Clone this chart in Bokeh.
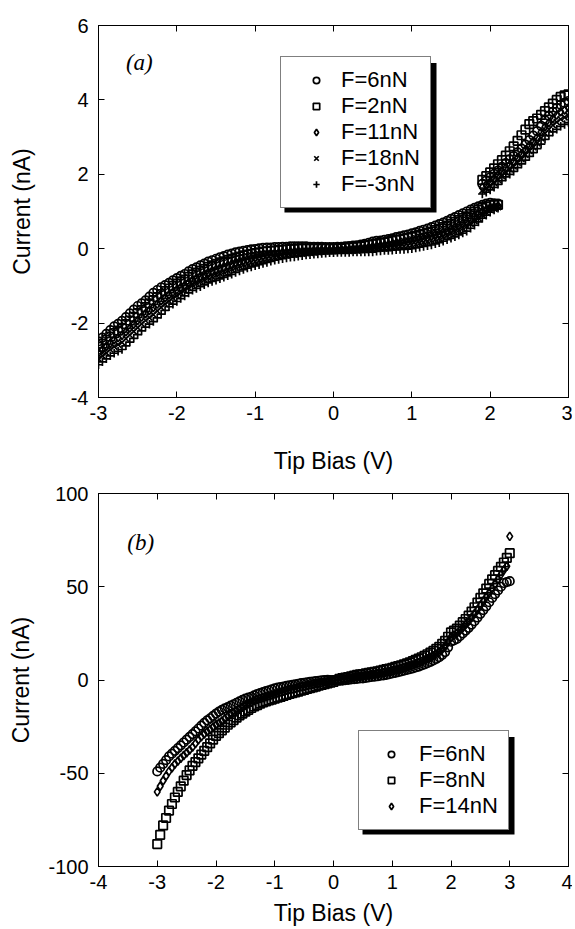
from bokeh.plotting import figure
from bokeh.models import (Range1d, LinearAxis, FixedTicker, Legend, LegendItem,
                          Label, ColumnDataSource, BoxAnnotation)
from bokeh.layouts import column
from bokeh.embed import file_html
from bokeh.resources import INLINE

FONT = "Liberation Sans"

# ---------------- panel (a) data ----------------
A_X_LO = [-3.00, -2.95, -2.90, -2.85, -2.80, -2.75, -2.70, -2.65, -2.60, -2.55,
          -2.50, -2.45, -2.40, -2.35, -2.30, -2.25, -2.20, -2.15, -2.10, -2.05,
          -2.00, -1.95, -1.90, -1.85, -1.80, -1.75, -1.70, -1.65, -1.60, -1.55,
          -1.50, -1.45, -1.40, -1.35, -1.30, -1.25, -1.20, -1.15, -1.10, -1.05,
          -1.00, -0.95, -0.90, -0.85, -0.80, -0.75, -0.70, -0.65, -0.60, -0.55,
          -0.50, -0.45, -0.40, -0.35, -0.30, -0.25, -0.20, -0.15, -0.10, -0.05,
          0.00, 0.05, 0.10, 0.15, 0.20, 0.25, 0.30, 0.35, 0.40, 0.45,
          0.50, 0.55, 0.60, 0.65, 0.70, 0.75, 0.80, 0.85, 0.90, 0.95,
          1.00, 1.05, 1.10, 1.15, 1.20, 1.25, 1.30, 1.35, 1.40, 1.45,
          1.50, 1.55, 1.60, 1.65, 1.70, 1.75, 1.80, 1.85, 1.90, 1.95,
          2.00, 2.05, 2.10]
A_X_HI = [1.90, 1.95, 2.00, 2.05, 2.10, 2.15, 2.20, 2.25, 2.30, 2.35, 2.40, 2.45,
          2.50, 2.55, 2.60, 2.65, 2.70, 2.75, 2.80, 2.85, 2.90, 2.95, 3.00]

A_F6_LO = [-2.49, -2.39, -2.29, -2.19, -2.09, -2.02, -1.94, -1.84, -1.74, -1.64,
           -1.54, -1.47, -1.39, -1.29, -1.19, -1.11, -1.04, -0.98, -0.92, -0.85,
           -0.79, -0.73, -0.68, -0.61, -0.55, -0.50, -0.45, -0.40, -0.35, -0.31,
           -0.27, -0.23, -0.20, -0.16, -0.13, -0.10, -0.08, -0.06, -0.04, -0.02,
           -0.01, 0.01, 0.02, 0.03, 0.03, 0.04, 0.04, 0.05, 0.05, 0.06,
           0.06, 0.06, 0.06, 0.06, 0.05, 0.05, 0.05, 0.05, 0.04, 0.04,
           0.04, 0.05, 0.05, 0.06, 0.07, 0.08, 0.09, 0.11, 0.13, 0.16,
           0.19, 0.21, 0.22, 0.24, 0.26, 0.28, 0.31, 0.33, 0.36, 0.38,
           0.41, 0.44, 0.48, 0.51, 0.54, 0.58, 0.62, 0.66, 0.70, 0.75,
           0.80, 0.85, 0.90, 0.95, 1.00, 1.05, 1.10, 1.14, 1.18, 1.21,
           1.23, 1.22, 1.21]
A_F6_HI = [1.74, 1.83, 1.92, 2.01, 2.10, 2.20, 2.30, 2.40, 2.49, 2.59, 2.69, 2.80,
           2.92, 3.04, 3.16, 3.30, 3.45, 3.57, 3.68, 3.78, 3.87, 3.92, 3.97]

A_F2_LO = [-2.64, -2.55, -2.45, -2.36, -2.27, -2.20, -2.13, -2.03, -1.93, -1.83,
           -1.73, -1.65, -1.57, -1.47, -1.38, -1.30, -1.22, -1.14, -1.07, -1.00,
           -0.94, -0.88, -0.83, -0.76, -0.69, -0.64, -0.59, -0.54, -0.49, -0.45,
           -0.41, -0.37, -0.34, -0.30, -0.27, -0.24, -0.21, -0.18, -0.16, -0.14,
           -0.12, -0.10, -0.08, -0.07, -0.06, -0.05, -0.04, -0.03, -0.02, -0.01,
           -0.01, 0.00, 0.00, 0.00, 0.00, 0.00, 0.00, 0.00, 0.00, 0.00,
           0.00, 0.00, 0.01, 0.02, 0.03, 0.04, 0.05, 0.06, 0.08, 0.10,
           0.12, 0.13, 0.15, 0.17, 0.19, 0.21, 0.23, 0.25, 0.27, 0.29,
           0.31, 0.34, 0.37, 0.40, 0.43, 0.46, 0.50, 0.54, 0.58, 0.62,
           0.67, 0.72, 0.77, 0.82, 0.87, 0.93, 0.99, 1.04, 1.09, 1.13,
           1.17, 1.18, 1.18]
A_F2_HI = [1.85, 1.95, 2.05, 2.16, 2.27, 2.38, 2.50, 2.62, 2.75, 2.90, 3.05, 3.20,
           3.35, 3.43, 3.50, 3.60, 3.70, 3.80, 3.90, 4.00, 4.08, 4.12, 4.15]

A_F11_LO = [-2.80, -2.71, -2.63, -2.54, -2.45, -2.39, -2.33, -2.23, -2.13, -2.03,
            -1.93, -1.84, -1.75, -1.66, -1.58, -1.49, -1.40, -1.32, -1.24, -1.17,
            -1.10, -1.04, -0.98, -0.91, -0.84, -0.79, -0.74, -0.69, -0.64, -0.60,
            -0.56, -0.52, -0.49, -0.45, -0.41, -0.37, -0.34, -0.31, -0.28, -0.25,
            -0.23, -0.21, -0.19, -0.17, -0.16, -0.14, -0.13, -0.11, -0.10, -0.09,
            -0.08, -0.07, -0.07, -0.06, -0.06, -0.05, -0.05, -0.04, -0.04, -0.04,
            -0.04, -0.03, -0.03, -0.02, -0.02, -0.01, 0.00, 0.01, 0.02, 0.03,
            0.05, 0.06, 0.08, 0.09, 0.11, 0.12, 0.14, 0.15, 0.17, 0.19,
            0.21, 0.23, 0.26, 0.28, 0.31, 0.34, 0.38, 0.41, 0.45, 0.49,
            0.54, 0.59, 0.64, 0.69, 0.74, 0.80, 0.87, 0.93, 1.00, 1.05,
            1.11, 1.13, 1.15]
A_F11_HI = [1.65, 1.72, 1.80, 1.89, 1.98, 2.08, 2.18, 2.26, 2.35, 2.45, 2.55, 2.66,
            2.78, 2.89, 3.00, 3.14, 3.28, 3.39, 3.50, 3.59, 3.68, 3.73, 3.78]

A_F18_LO = [-2.96, -2.88, -2.80, -2.71, -2.63, -2.58, -2.52, -2.42, -2.32, -2.22,
            -2.12, -2.02, -1.93, -1.85, -1.77, -1.67, -1.58, -1.49, -1.41, -1.33,
            -1.26, -1.19, -1.12, -1.05, -0.98, -0.93, -0.88, -0.83, -0.78, -0.75,
            -0.71, -0.67, -0.63, -0.59, -0.55, -0.51, -0.47, -0.43, -0.40, -0.37,
            -0.35, -0.32, -0.30, -0.27, -0.25, -0.23, -0.21, -0.19, -0.18, -0.16,
            -0.15, -0.14, -0.13, -0.12, -0.11, -0.10, -0.09, -0.08, -0.08, -0.07,
            -0.07, -0.06, -0.06, -0.06, -0.06, -0.05, -0.05, -0.04, -0.04, -0.03,
            -0.02, 0.00, 0.01, 0.01, 0.02, 0.03, 0.05, 0.06, 0.07, 0.08,
            0.10, 0.12, 0.15, 0.17, 0.19, 0.22, 0.25, 0.28, 0.32, 0.36,
            0.41, 0.45, 0.50, 0.55, 0.60, 0.67, 0.74, 0.82, 0.91, 0.98,
            1.04, 1.08, 1.12]
A_F18_HI = [1.56, 1.62, 1.69, 1.77, 1.85, 1.95, 2.05, 2.13, 2.21, 2.31, 2.41, 2.52,
            2.63, 2.73, 2.84, 2.97, 3.10, 3.21, 3.32, 3.40, 3.48, 3.53, 3.58]

A_FM3_LO = [-3.12, -3.04, -2.96, -2.88, -2.81, -2.76, -2.71, -2.61, -2.51, -2.41,
            -2.31, -2.21, -2.11, -2.03, -1.96, -1.86, -1.76, -1.66, -1.56, -1.49,
            -1.42, -1.34, -1.27, -1.19, -1.12, -1.07, -1.02, -0.97, -0.92, -0.88,
            -0.85, -0.81, -0.77, -0.73, -0.69, -0.64, -0.60, -0.56, -0.52, -0.49,
            -0.46, -0.43, -0.40, -0.37, -0.34, -0.31, -0.29, -0.27, -0.25, -0.23,
            -0.22, -0.20, -0.19, -0.17, -0.16, -0.15, -0.14, -0.13, -0.12, -0.11,
            -0.11, -0.10, -0.10, -0.10, -0.10, -0.09, -0.09, -0.09, -0.09, -0.09,
            -0.09, -0.07, -0.06, -0.05, -0.05, -0.04, -0.03, -0.02, -0.02, -0.01,
            0.00, 0.02, 0.04, 0.06, 0.08, 0.10, 0.13, 0.16, 0.20, 0.24,
            0.28, 0.32, 0.37, 0.42, 0.47, 0.55, 0.63, 0.72, 0.82, 0.90,
            0.98, 1.04, 1.09]
A_FM3_HI = [1.47, 1.52, 1.58, 1.65, 1.73, 1.83, 1.93, 2.00, 2.08, 2.18, 2.28, 2.38,
            2.48, 2.58, 2.69, 2.81, 2.94, 3.04, 3.14, 3.21, 3.29, 3.34, 3.39]

A_LABELS = ["F=6nN", "F=2nN", "F=11nN", "F=18nN", "F=-3nN"]
A_MARKERS = ["circle", "square", "diamond", "x", "cross"]
A_XTICKS = [-3, -2, -1, 0, 1, 2, 3]
A_YTICKS = [-4, -2, 0, 2, 4, 6]

# ---------------- panel (b) data ----------------
B_X = [-3.00, -2.95, -2.90, -2.85, -2.80, -2.75, -2.70, -2.65, -2.60, -2.55,
       -2.50, -2.45, -2.40, -2.35, -2.30, -2.25, -2.20, -2.15, -2.10, -2.05,
       -2.00, -1.95, -1.90, -1.85, -1.80, -1.75, -1.70, -1.65, -1.60, -1.55,
       -1.50, -1.45, -1.40, -1.35, -1.30, -1.25, -1.20, -1.15, -1.10, -1.05,
       -1.00, -0.95, -0.90, -0.85, -0.80, -0.75, -0.70, -0.65, -0.60, -0.55,
       -0.50, -0.45, -0.40, -0.35, -0.30, -0.25, -0.20, -0.15, -0.10, -0.05,
       0.00, 0.05, 0.10, 0.15, 0.20, 0.25, 0.30, 0.35, 0.40, 0.45,
       0.50, 0.55, 0.60, 0.65, 0.70, 0.75, 0.80, 0.85, 0.90, 0.95,
       1.00, 1.05, 1.10, 1.15, 1.20, 1.25, 1.30, 1.35, 1.40, 1.45,
       1.50, 1.55, 1.60, 1.65, 1.70, 1.75, 1.80, 1.85, 1.90, 1.95,
       2.00, 2.05, 2.10, 2.15, 2.20, 2.25, 2.30, 2.35, 2.40, 2.45,
       2.50, 2.55, 2.60, 2.65, 2.70, 2.75, 2.80, 2.85, 2.90, 2.95,
       3.00]
B_F6 = [-49, -47, -45, -43, -41, -39.5, -38, -36.5, -35, -33.5,
        -32, -30.5, -29, -27.5, -26, -24.5, -23, -21.7, -20.5, -19.2,
        -18, -17, -16, -15.2, -14.5, -13.7, -13, -12.2, -11.5, -10.7,
        -10, -9.5, -9, -8.2, -7.5, -7, -6.5, -6, -5.5, -5,
        -4.5, -4.1, -3.8, -3.5, -3.2, -2.9, -2.6, -2.3, -2.0, -1.7,
        -1.5, -1.2, -1.0, -0.8, -0.6, -0.4, -0.2, -0.1, 0.1, 0.0,
        0.0, -0.2, -0.4, -0.3, -0.1, 0.1, 0.3, 0.5, 0.6, 0.8,
        0.9, 1.1, 1.4, 1.6, 1.8, 2.0, 2.3, 2.5, 2.8, 3.1,
        3.5, 3.8, 4.2, 4.6, 5.0, 5.4, 5.8, 6.2, 6.7, 7.2,
        7.8, 8.4, 9.0, 9.7, 10.5, 11.3, 12.2, 13.5, 15.0, 17.5,
        20.5, 21.2, 22.0, 23.5, 25.0, 26.5, 28.0, 29.7, 31.5, 33.5,
        35.5, 37.5, 39.5, 41.7, 44.0, 46.0, 48.0, 50.0, 52.0, 52.5,
        53.0]
B_F8 = [-88, -83, -78, -74, -70, -66.5, -63, -60, -57, -54,
        -51, -48.5, -46, -44, -42, -40, -38, -36, -34, -32,
        -30, -28.5, -27, -25.5, -24, -22.7, -21.5, -20.2, -19, -18,
        -17, -16, -15, -14.2, -13.5, -12.7, -12, -11.5, -11, -10.5,
        -10, -9.5, -9, -8.5, -8, -7.5, -7, -6.6, -6.2, -5.7,
        -5.3, -4.8, -4.4, -4.0, -3.5, -3.0, -2.6, -2.2, -1.8, -1.4,
        -1.0, -0.2, 0.6, 1.0, 1.3, 1.6, 2.0, 2.3, 2.7, 3.0,
        3.2, 3.5, 3.8, 4.1, 4.4, 4.7, 5.1, 5.4, 5.8, 6.1,
        6.5, 7.0, 7.4, 7.9, 8.4, 8.9, 9.5, 10.1, 10.8, 11.5,
        12.2, 13.0, 13.8, 14.7, 15.6, 16.7, 17.8, 19.4, 21.0, 23.2,
        25.5, 26.5, 27.5, 29.2, 31.0, 32.7, 34.5, 36.7, 39.0, 41.5,
        44.0, 46.5, 49.0, 51.5, 54.0, 56.2, 58.5, 60.7, 63.0, 65.5,
        68.0]
B_F14 = [-60, -57, -54, -51.5, -49, -47, -45, -43.5, -42, -40.5,
         -39, -37.5, -36, -34, -32, -30.5, -29, -27.7, -26.5, -25.2,
         -24, -23, -22, -20.7, -19.5, -18.5, -17.5, -16.5, -15.5, -14.5,
         -13.5, -12.7, -12, -11.2, -10.5, -10, -9.5, -9, -8.5, -8,
         -7.5, -7, -6.5, -6, -5.5, -5.1, -4.8, -4.4, -4.0, -3.6,
         -3.3, -2.9, -2.6, -2.3, -2.0, -1.7, -1.4, -1.1, -0.8, -0.6,
         -0.4, -0.1, 0.1, 0.3, 0.6, 0.8, 1.1, 1.4, 1.7, 1.9,
         2.1, 2.3, 2.6, 2.8, 3.1, 3.4, 3.7, 4.0, 4.3, 4.6,
         5.0, 5.4, 5.8, 6.2, 6.6, 7.1, 7.6, 8.1, 8.7, 9.3,
         10.0, 10.7, 11.4, 12.2, 13.0, 14.0, 15.0, 16.5, 18.0, 20.5,
         23.0, 24.0, 25.0, 26.5, 28.0, 29.7, 31.5, 33.5, 35.5, 37.7,
         40.0, 42.2, 44.5, 46.7, 49.0, 51.5, 54.0, 56.5, 59.0, 61.0,
         77.0]

B_LABELS = ["F=6nN", "F=8nN", "F=14nN"]
B_MARKERS = ["circle", "square", "diamond"]
B_XTICKS = [-4, -3, -2, -1, 0, 1, 2, 3, 4]
B_YTICKS = [-100, -50, 0, 50, 100]


def style_axis(ax, ticks, label_standoff=8, title_standoff=6, show_labels=True):
    ax.ticker = FixedTicker(ticks=ticks)
    ax.major_tick_in = 6
    ax.major_tick_out = 0
    ax.minor_tick_line_color = None
    ax.axis_line_color = "black"
    ax.axis_line_width = 1
    ax.major_tick_line_color = "black"
    ax.major_tick_line_width = 1
    if show_labels:
        ax.major_label_text_font = FONT
        ax.major_label_text_font_size = "20px"
        ax.major_label_text_color = "black"
        ax.major_label_standoff = label_standoff
        ax.major_label_overrides = {t: str(t) for t in ticks}
        ax.axis_label_text_font = FONT
        ax.axis_label_text_font_size = "23px"
        ax.axis_label_text_font_style = "normal"
        ax.axis_label_text_color = "black"
        ax.axis_label_standoff = title_standoff
    else:
        ax.major_label_text_font_size = "1px"
        ax.major_label_text_color = None
        ax.major_label_standoff = 0


def make_panel(height, btop, bbot, xr, yr, xticks, yticks, xt_std, yt_std):
    p = figure(width=572, height=height, x_range=Range1d(*xr), y_range=Range1d(*yr),
               output_backend="svg", toolbar_location=None,
               min_border_left=98, min_border_right=4,
               min_border_top=btop, min_border_bottom=bbot)
    p.grid.visible = False
    p.outline_line_color = "black"
    p.background_fill_color = "white"
    p.border_fill_color = "white"
    style_axis(p.xaxis[0], xticks, label_standoff=8, title_standoff=xt_std)
    style_axis(p.yaxis[0], yticks, label_standoff=10, title_standoff=yt_std)
    p.xaxis.axis_label = "Tip Bias (V)"
    p.yaxis.axis_label = "Current (nA)"
    top = LinearAxis()
    style_axis(top, xticks, show_labels=False)
    p.add_layout(top, "above")
    right = LinearAxis()
    style_axis(right, yticks, show_labels=False)
    p.add_layout(right, "right")
    return p


def add_series(p, xs, ys, markers, labels, size):
    items = []
    for x, y, m, lab in zip(xs, ys, markers, labels):
        src = ColumnDataSource(dict(x=x, y=y))
        r = p.scatter("x", "y", source=src, marker=m, size=size,
                      line_color="black", line_width=1.7, fill_color=None)
        items.append(LegendItem(label=lab, renderers=[r]))
    return items


def add_legend(p, items, loc, glyph_w, standoff, shadow_box):
    l, r, t, b = shadow_box
    p.add_layout(BoxAnnotation(left=l, right=r, top=t, bottom=b, fill_color="black",
                               fill_alpha=1, line_color=None))
    leg = Legend(items=items, location=loc, label_text_font=FONT, label_text_font_size="22px",
                 label_text_color="black", glyph_width=glyph_w, glyph_height=16,
                 label_height=26, label_standoff=standoff, spacing=0, padding=10, margin=0,
                 border_line_color="black", border_line_width=1,
                 background_fill_color="white", background_fill_alpha=1)
    p.add_layout(leg)


# panel (a)
pa = make_panel(476, 25, 78, (-3, 3), (-4, 6), A_XTICKS, A_YTICKS, 25, 33)
a_xs = [A_X_LO + A_X_HI] * 5
a_ys = [A_F6_LO + A_F6_HI, A_F2_LO + A_F2_HI, A_F11_LO + A_F11_HI,
        A_F18_LO + A_F18_HI, A_FM3_LO + A_FM3_HI]
items_a = add_series(pa, a_xs, a_ys, A_MARKERS, A_LABELS, 8.5)
add_legend(pa, items_a, (182, 189), 50, 0, (-0.626, 1.315, 4.99, 0.97))
pa.add_layout(Label(x=-2.65, y=5.0, text="(a)", text_font="Liberation Serif",
                    text_font_style="italic", text_font_size="23px",
                    text_baseline="middle", text_align="left", text_color="black"))

# panel (b)
pb = make_panel(452, 17, 61, (-4, 4), (-100, 100), B_XTICKS, B_YTICKS, 8, 11)
items_b = add_series(pb, [B_X] * 3, [B_F6, B_F8, B_F14], B_MARKERS, B_LABELS, 8.5)
add_legend(pb, items_b, (260, 36), 44, 6, (0.494, 3.081, -30.5, -82.9))
pb.add_layout(Label(x=-3.51, y=73.7, text="(b)", text_font="Liberation Serif",
                    text_font_style="italic", text_font_size="23px",
                    text_baseline="middle", text_align="left", text_color="black"))

layout = column(pa, pb, spacing=0)
open("out.html", "w").write(file_html(layout, INLINE))
